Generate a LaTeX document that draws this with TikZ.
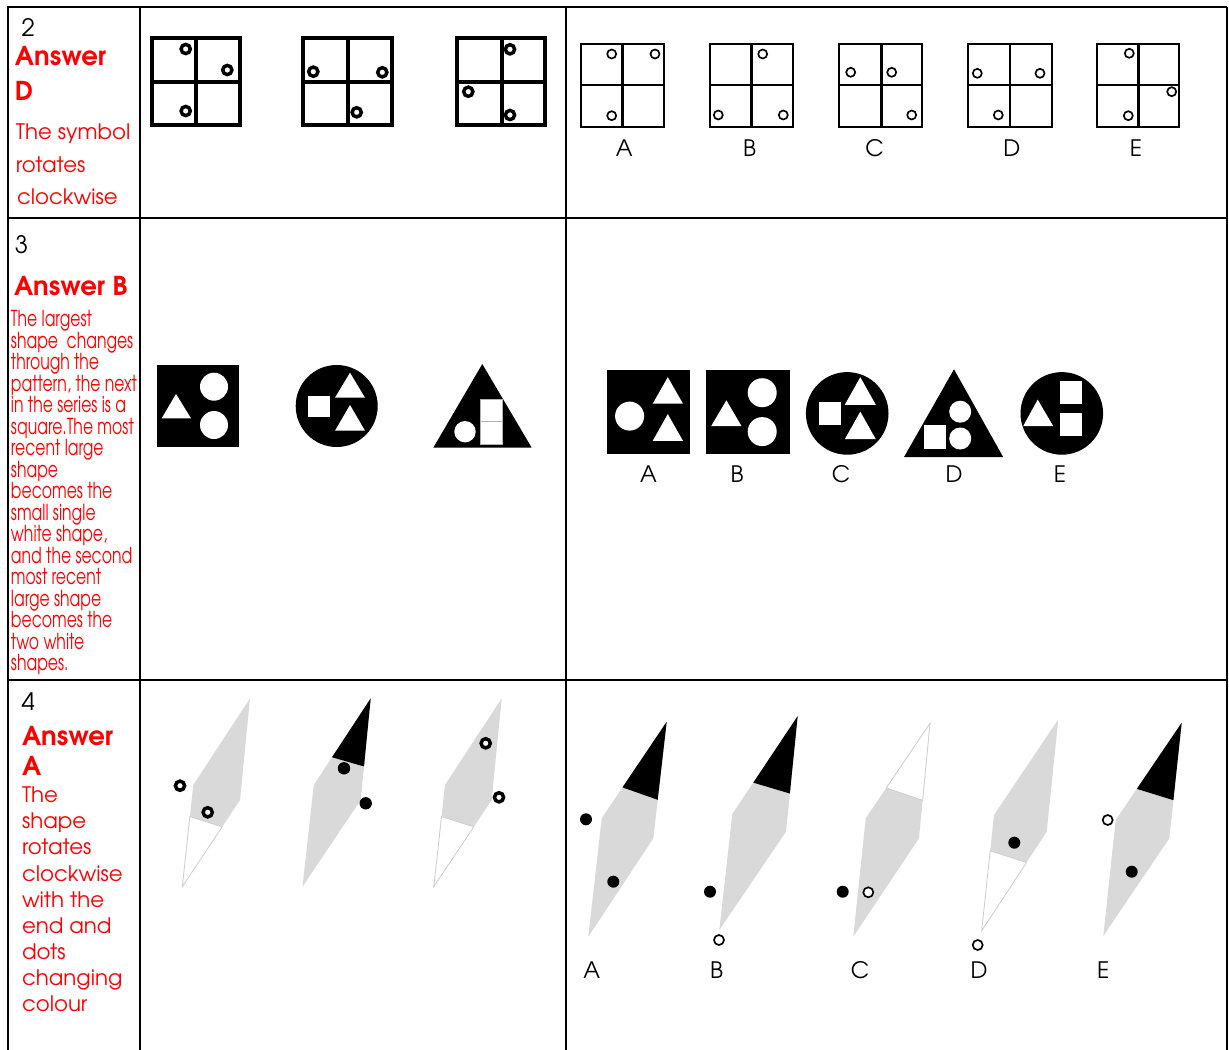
\documentclass[tikz,border=0pt]{standalone}
\usepackage{fontspec}
\setmainfont{texgyreadventor}[Extension=.otf, UprightFont=*-regular, BoldFont=*-bold, ItalicFont=*-italic, BoldItalicFont=*-bolditalic]
\newfontfamily\condfont{texgyreadventor}[Extension=.otf, UprightFont=*-regular, BoldFont=*-bold, FakeStretch=0.71]
\usetikzlibrary{calc}
\definecolor{ansred}{RGB}{255,0,0}
\definecolor{kitegray}{RGB}{217,217,217}
\definecolor{kline}{RGB}{205,205,205}
\newcommand{\kite}[7]{%
 \coordinate (#1T) at #2;
 \coordinate (#1R) at #3;
 \coordinate (#1B) at #4;
 \coordinate (#1L) at #5;
 \coordinate (#1a) at ($(#1T)!0.67!(#1R)$);
 \coordinate (#1b) at ($(#1T)!0.68!(#1L)$);
 \coordinate (#1c) at ($(#1L)!0.31!(#1B)$);
 \coordinate (#1d) at ($(#1R)!0.31!(#1B)$);
 \fill[kitegray] (#1T)--(#1R)--(#1B)--(#1L)--cycle;
 \path[#6] (#1T)--(#1a)--(#1b)--cycle;
 \path[#7] (#1c)--(#1d)--(#1B)--cycle;
}
\newcommand{\qsquare}[3]{% left, right, vertical centre
 \draw[qsq] (#1,38) rectangle (#2,125);
 \draw[qsq] (#3,38) -- (#3,125);
 \draw[qsq] (#1,81.7) -- (#2,81.7);
}
\newcommand{\asquare}[3]{%
 \draw[asq] (#1,43.5) rectangle (#2,126.5);
 \draw[asq, line width=2.2pt] (#3,43.5) -- (#3,126.5);
 \draw[asq] (#1,85) -- (#2,85);
}
\begin{document}
\begin{tikzpicture}[x=0.75pt,y=-0.75pt,
  grid/.style={line width=1.5pt, black},
  qsq/.style={line width=3pt, black},
  asq/.style={line width=1.5pt, black},
  ring/.style={draw=black, fill=white, line width=2.6pt},
  oring/.style={draw=black, fill=white, line width=1.25pt},
  dot/.style={fill=black},
  blk/.style={fill=black},
  wht/.style={fill=white},
  whitepart/.style={fill=white, draw=kline, line width=0.6pt},
  blackpart/.style={fill=black},
  txt/.style={anchor=base west, inner sep=0pt, outer sep=0pt},
  numtxt/.style={txt, font=\fontsize{18}{20}\selectfont},
  anstxt/.style={txt, text=ansred, font=\fontsize{19.5}{21}\selectfont\bfseries},
  exptxt/.style={txt, text=ansred, font=\fontsize{16}{18}\selectfont},
  condtxt/.style={txt, text=ansred, font=\condfont\fontsize{16.5}{18}\selectfont},
  lbl/.style={anchor=base, inner sep=0pt, font=\fontsize{17}{19}\selectfont}]
\useasboundingbox (0,0) rectangle (1229,1050);
\fill[white] (0,0) rectangle (1229,1050);

% ---------- table ----------
\draw[grid] (7,7) -- (1227,7);
\draw[grid] (7,218) -- (1227,218);
\draw[grid] (7,680) -- (1227,680);
\draw[grid] (8,7) -- (8,1050);
\draw[grid] (140,7) -- (140,1050);
\draw[grid] (566,7) -- (566,1050);
\draw[grid] (1227,7) -- (1227,1050);

% ---------- row 2 text ----------
\node[numtxt] (n2) at (21.7,36.7) {2};
\node[anstxt] (a2a) at (15,65.7) {Answer};
\node[anstxt] (a2b) at (15,100) {D};
\node[exptxt] (e2a) at (16,139) {The symbol};
\node[exptxt] (e2b) at (16,172.7) {rotates};
\node[exptxt] (e2c) at (17,204) {clockwise};

% ---------- row 2 questions ----------
\qsquare{152}{240}{196}
\draw[ring] (185.7,49) circle (4.6);
\draw[ring] (227.3,70) circle (4.6);
\draw[ring] (185.7,111) circle (4.6);
\qsquare{303.3}{392.3}{348.3}
\draw[ring] (313.3,71.7) circle (4.6);
\draw[ring] (382.3,72.3) circle (4.6);
\draw[ring] (356.7,112.3) circle (4.6);
\qsquare{456.7}{545}{501.7}
\draw[ring] (510,49.3) circle (4.6);
\draw[ring] (468.3,91.7) circle (4.6);
\draw[ring] (510,115) circle (4.6);

% ---------- row 2 answers ----------
\asquare{580.7}{664}{622.7}
\draw[oring] (611.7,54) circle (4.5);
\draw[oring] (655,54) circle (4.5);
\draw[oring] (611.7,115.7) circle (4.5);
\node[lbl] (l2a) at (624.3,156.7) {A};
\asquare{710}{792.7}{751.7}
\draw[oring] (762.7,54) circle (4.5);
\draw[oring] (718.3,115) circle (4.5);
\draw[oring] (783.3,115) circle (4.5);
\node[lbl] (l2b) at (749.5,156.7) {B};
\asquare{839.3}{921.5}{881.7}
\draw[oring] (850.7,72.3) circle (4.5);
\draw[oring] (891.7,72.3) circle (4.5);
\draw[oring] (911.7,115) circle (4.5);
\node[lbl] (l2c) at (874.5,156.7) {C};
\asquare{967.7}{1051.7}{1010}
\draw[oring] (977.3,73.3) circle (4.5);
\draw[oring] (1040,73.3) circle (4.5);
\draw[oring] (998.3,115) circle (4.5);
\node[lbl] (l2d) at (1011.7,156.7) {D};
\asquare{1096.7}{1179.3}{1138.3}
\draw[oring] (1129.3,53.3) circle (4.5);
\draw[oring] (1171.7,91.7) circle (4.5);
\draw[oring] (1128.3,115.7) circle (4.5);
\node[lbl] (l2e) at (1136,156.7) {E};

% ---------- row 3 text ----------
\node[numtxt] (n3) at (15,253) {3};
\node[anstxt] (a3) at (14,295) {Answer B};
\foreach \t [count=\i from 0] in {The largest, {shape\ \ changes}, through the, {pattern, the next}, in the series is a, square.The most, recent large, shape, becomes the, small single, {white shape,}, and the second, most recent, large shape, becomes the, two white, shapes.}
  \node[condtxt] (c\i) at (11,{326.7+21.5*\i}) {\t};

% ---------- row 3 questions ----------
\fill[blk] (156.7,365) rectangle (239.3,447.3);
\fill[wht] (161.7,418.3) -- (191,418.3) -- (176,394) -- cycle;
\fill[wht] (214,386.7) circle (14);
\fill[wht] (214,425) circle (14);

\fill[blk] (336.7,406) circle (41);
\fill[wht] (308.3,395.7) rectangle (330,416.7);
\fill[wht] (335,397.7) -- (365,397.7) -- (350,372.7) -- cycle;
\fill[wht] (335,430.7) -- (365,430.7) -- (350,405) -- cycle;

\fill[blk] (433.3,447.7) -- (531.7,447.7) -- (482.3,364) -- cycle;
\draw[fill=white, draw=gray!60, line width=0.6pt] (480.7,399.3) rectangle (502.7,421.7);
\draw[fill=white, draw=gray!60, line width=0.6pt] (480.7,421.7) rectangle (502.7,444);
\fill[wht] (465,431.7) circle (10.7);

% ---------- row 3 answers ----------
% A
\fill[blk] (606.5,370) rectangle (690,454);
\fill[wht] (629.6,416.1) circle (14.5);
\fill[wht] (652.7,403.7) -- (683,403.7) -- (667.8,377.2) -- cycle;
\fill[wht] (652.7,440.9) -- (683,440.9) -- (667.8,414.1) -- cycle;
\node[lbl] (l3a) at (648.5,482) {A};
% B
\fill[blk] (706.4,370) rectangle (789.7,454);
\fill[wht] (711.2,426.1) -- (741.5,426.1) -- (726.4,400.3) -- cycle;
\fill[wht] (762.2,392.7) circle (14.5);
\fill[wht] (762.2,431.6) circle (14.5);
\node[lbl] (l3b) at (737,482) {B};
% C
\fill[blk] (847.2,413.4) circle (41.3);
\fill[wht] (819,402.4) rectangle (840.7,424.7);
\fill[wht] (844.8,404.8) -- (875.8,404.8) -- (860.3,377.2) -- cycle;
\fill[wht] (844.8,439.2) -- (875.8,439.2) -- (860.3,411.7) -- cycle;
\node[lbl] (l3c) at (841,482) {C};
% D
\fill[blk] (904,457.1) -- (1003.2,457.1) -- (954,369.3) -- cycle;
\fill[wht] (924,425.4) rectangle (946.4,448.8);
\fill[wht] (960.2,411.7) circle (11);
\fill[wht] (960.2,438.5) circle (11);
\node[lbl] (l3d) at (954,482) {D};
% E
\fill[blk] (1061.8,413.4) circle (41.3);
\fill[wht] (1023.2,426.1) -- (1053.2,426.1) -- (1037.7,399.6) -- cycle;
\fill[wht] (1060,381.3) rectangle (1081.7,403.7);
\fill[wht] (1060,413.4) rectangle (1081.7,435.8);
\node[lbl] (l3e) at (1060,482) {E};

% ---------- row 4 text ----------
\node[numtxt] (n4) at (21.7,710) {4};
\node[anstxt] (a4a) at (22,745) {Answer};
\node[anstxt] (a4b) at (22,775) {A};
\foreach \t [count=\i from 0] in {The, shape, rotates, clockwise, with the, end and, dots, changing, colour}
  \node[exptxt] (d\i) at (22,{802.7+26.1*\i}) {\t};

% ---------- row 4 questions ----------
\kite{qa}{(250,698.3)}{(240,800)}{(182.3,886.7)}{(193.3,785)}{}{whitepart}
\draw[ring] (180,785.7) circle (4.6);
\draw[ring] (207.7,812.3) circle (4.6);

\kite{qb}{(370.7,698.3)}{(360.7,800)}{(302.5,886.7)}{(313.8,785)}{blackpart}{}
\fill[dot] (344,768.3) circle (6.2);
\fill[dot] (365.7,803.3) circle (6.2);

\kite{qc}{(501.7,698.3)}{(491.7,800)}{(433.8,886.7)}{(445,785)}{}{whitepart}
\draw[ring] (485.7,743.3) circle (4.6);
\draw[ring] (499,797.3) circle (4.6);

% ---------- row 4 answers ----------
\kite{ka}{(666.7,721.7)}{(653.3,838.3)}{(588.3,936.7)}{(601.7,818.3)}{blackpart}{}
\fill[dot] (586,819.3) circle (6);
\fill[dot] (613.3,881.7) circle (6);
\node[lbl] (l4a) at (591.7,978) {A};

\kite{kb}{(797.7,716)}{(786,831.7)}{(719.3,930)}{(732.3,814)}{blackpart}{}
\fill[dot] (710,891.7) circle (6);
\draw[oring] (719,940) circle (5);
\node[lbl] (l4b) at (716.7,978) {B};

\kite{kc}{(930,723.3)}{(919,838.3)}{(853.3,936.7)}{(865.7,818.3)}{whitepart}{}
\fill[dot] (842.7,891.7) circle (6);
\draw[oring] (868.3,892.3) circle (5);
\node[lbl] (l4c) at (860,978) {C};

\kite{kd}{(1058.3,719.3)}{(1046.7,831.7)}{(981.7,930.7)}{(994,815)}{}{whitepart}
\fill[dot] (1014.3,842.7) circle (6);
\draw[oring] (977.7,945) circle (5);
\node[lbl] (l4d) at (979,978) {D};

\kite{ke}{(1181.7,722.7)}{(1169.3,838.3)}{(1103.3,936)}{(1115.7,820)}{blackpart}{}
\draw[oring] (1107.7,820) circle (5);
\fill[dot] (1131.7,871.7) circle (6);
\node[lbl] (l4e) at (1103.3,978) {E};
\end{tikzpicture}
\end{document}
